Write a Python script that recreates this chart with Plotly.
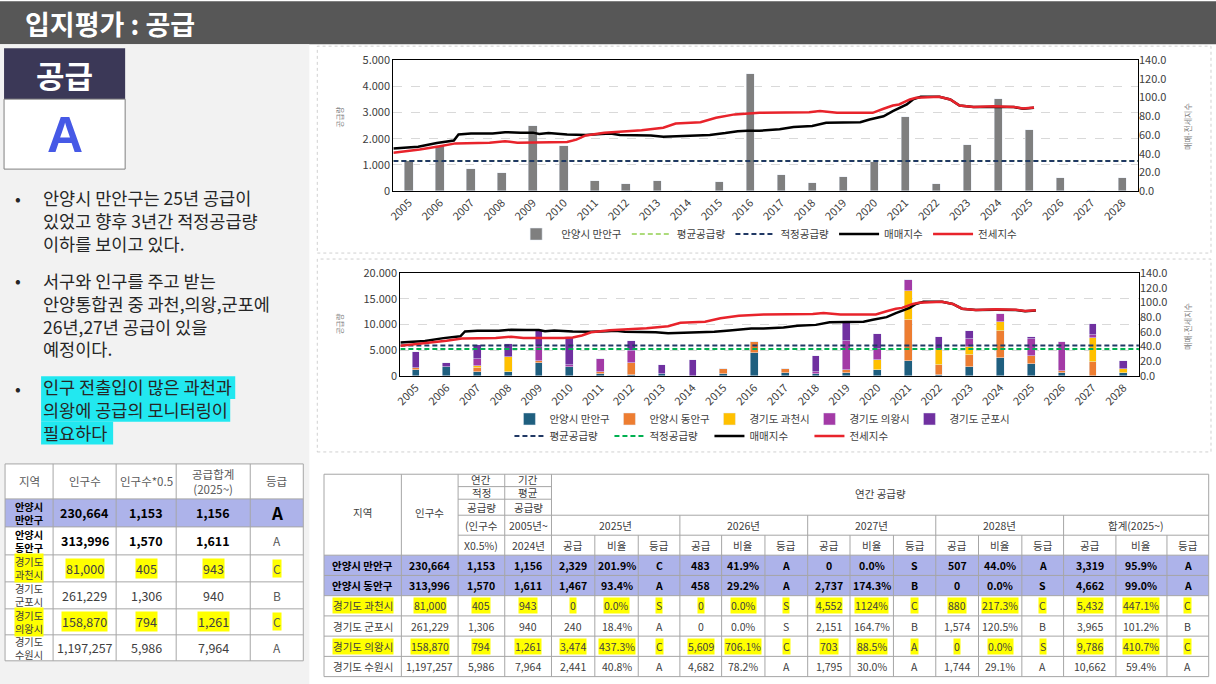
import plotly.graph_objects as go

W, H = 1216, 684
FONT = "Noto Sans CJK KR"

# 연도 (차트 x축)
years = list(range(2005, 2029))

# 2005~2024 연도별 공급량 (차트에서 읽은 값, 2025~2028은 아래 표 값 사용)
manan_hist = [1150, 1700, 850, 680, 2480, 1700, 380, 280, 380, 0, 350, 4480,
              600, 305, 520, 1120, 2840, 270, 1760, 3500]
dongan_hist = [400, 0, 600, 0, 500, 0, 300, 2180, 0, 0, 1010, 2060,
               760, 100, 650, 0, 8030, 1930, 2380, 5170]
gwacheon_hist = [0, 0, 500, 2940, 0, 0, 0, 0, 0, 0, 0, 0,
                 0, 0, 0, 2050, 5570, 2850, 1560, 1880]
uiwang_hist = [0, 0, 1400, 0, 2600, 400, 2690, 2460, 0, 0, 0, 0,
               0, 300, 5690, 2000, 2200, 0, 1500, 1490]
gunpo_hist = [3100, 890, 2670, 2660, 3350, 5400, 0, 1940, 1690, 3170, 0, 0,
              0, 3245, 3560, 2985, 0, 2590, 1470, 0]

# 매매지수 / 전세지수 (x는 연도 위치)
sale_x = [2004.5, 2005.3, 2005.9, 2006.2, 2006.45, 2006.6, 2007.0, 2007.7, 2008.1, 2008.6,
          2009.0, 2009.2, 2009.5, 2010.1, 2010.7, 2011.2, 2011.5, 2011.8, 2012.8, 2013.2,
          2013.9, 2014.4, 2014.7, 2015.2, 2015.6, 2015.9, 2016.3, 2016.95, 2017.4, 2018.0,
          2018.45, 2019.55, 2019.85, 2020.3, 2020.6, 2021.05, 2021.25, 2021.5, 2022.1, 2022.45,
          2022.75, 2023.2, 2023.85, 2024.5, 2024.8, 2025.15]
sale_idx = [45.6, 47.5, 51.5, 53.0, 54.0, 60.5, 61.5, 61.5, 63.0, 62.5,
            62.5, 61.0, 62.0, 60.5, 60.0, 61.0, 61.5, 60.0, 59.5, 58.0,
            59.0, 59.0, 60.0, 62.0, 64.0, 64.5, 64.5, 66.0, 68.4, 69.5,
            73.0, 73.7, 76.6, 80.0, 85.5, 92.6, 98.0, 100.8, 100.8, 98.0,
            91.5, 89.8, 90.0, 89.8, 88.0, 89.0]
jeonse_x = [2004.5, 2005.35, 2006.0, 2006.5, 2007.6, 2008.1, 2008.5, 2009.8, 2010.1, 2010.4,
            2010.7, 2011.3, 2012.1, 2012.5, 2013.2, 2013.6, 2014.4, 2014.9, 2015.5, 2016.0,
            2016.3, 2017.9, 2018.25, 2018.8, 2019.95, 2020.3, 2020.6, 2020.8, 2021.15, 2021.35,
            2022.1, 2022.45, 2022.75, 2023.2, 2023.85, 2024.5, 2024.8, 2025.15]
jeonse_idx = [41.0, 44.5, 48.0, 51.0, 51.7, 53.4, 51.7, 51.7, 52.4, 55.0,
              59.5, 62.3, 64.0, 65.0, 67.7, 72.3, 73.7, 78.4, 82.0, 83.0,
              83.7, 84.4, 85.5, 83.7, 83.7, 88.0, 91.5, 92.6, 98.0, 99.7,
              100.8, 98.0, 91.5, 89.8, 90.8, 90.0, 88.4, 89.5]

# 표 데이터 (만안, 동안, 과천, 군포, 의왕, 수원)
regions = ["안양시 만안구", "안양시 동안구", "경기도 과천시", "경기도 군포시", "경기도 의왕시", "경기도 수원시"]
population = [230664, 313996, 81000, 261229, 158870, 1197257]
proper_supply = [1153, 1570, 405, 1306, 794, 5986]
avg_supply = [1156, 1611, 943, 940, 1261, 7964]
left_grade = ["A", "A", "C", "B", "C", "A"]

supply_2025 = [2329, 1467, 0, 240, 3474, 2441]
ratio_2025 = ["201.9%", "93.4%", "0.0%", "18.4%", "437.3%", "40.8%"]
grade_2025 = ["C", "A", "S", "A", "C", "A"]
supply_2026 = [483, 458, 0, 0, 5609, 4682]
ratio_2026 = ["41.9%", "29.2%", "0.0%", "0.0%", "706.1%", "78.2%"]
grade_2026 = ["A", "A", "S", "S", "C", "A"]
supply_2027 = [0, 2737, 4552, 2151, 703, 1795]
ratio_2027 = ["0.0%", "174.3%", "1124%", "164.7%", "88.5%", "30.0%"]
grade_2027 = ["S", "B", "C", "B", "A", "A"]
supply_2028 = [507, 0, 880, 1574, 0, 1744]
ratio_2028 = ["44.0%", "0.0%", "217.3%", "120.5%", "0.0%", "29.1%"]
grade_2028 = ["A", "S", "C", "B", "S", "A"]
supply_total = [3319, 4662, 5432, 3965, 9786, 10662]
ratio_total = ["95.9%", "99.0%", "447.1%", "101.2%", "410.7%", "59.4%"]
grade_total = ["A", "A", "C", "B", "C", "A"]

blocks = [("2025년", supply_2025, ratio_2025, grade_2025),
          ("2026년", supply_2026, ratio_2026, grade_2026),
          ("2027년", supply_2027, ratio_2027, grade_2027),
          ("2028년", supply_2028, ratio_2028, grade_2028),
          ("합계(2025~)", supply_total, ratio_total, grade_total)]


def future(i):
    return [supply_2025[i], supply_2026[i], supply_2027[i], supply_2028[i]]


manan = manan_hist + future(0)
dongan = dongan_hist + future(1)
gwacheon = gwacheon_hist + future(2)
gunpo = gunpo_hist + future(3)
uiwang = uiwang_hist + future(4)

# 차트 가로선 값
top_avg, top_proper = avg_supply[0], proper_supply[0]
all_avg = sum(avg_supply[:5])
all_proper = sum(proper_supply[:5])

ROW_FILL = "#adb3ea"
YELLOW = "#ffff00"
CYAN = "#22e8f0"
GRID = "#a6a6a6"

# 페이지 기본 여백(8px) 보정: 슬라이드 픽셀 좌표 -> 그림 좌표
SX = (W + 8) / W
SY = (H + 16) / H


def px_x(x):
    return (x * SX - 8) / W


def px_y(y):
    return 1 - (y * SY - 8) / H


shapes = []
annotations = []


def box(x0, y0, x1, y1, fill=None, line=None, lw=1, dash=None, layer="below"):
    ln = dict(color=line or "rgba(0,0,0,0)", width=lw if line else 0)
    if dash:
        ln["dash"] = dash
    shapes.append(dict(type="rect", xref="paper", yref="paper",
                       x0=px_x(x0), x1=px_x(x1), y0=px_y(y1), y1=px_y(y0),
                       fillcolor=fill or "rgba(0,0,0,0)", line=ln, layer=layer))


def seg(x0, y0, x1, y1, color=GRID, lw=1):
    shapes.append(dict(type="line", xref="paper", yref="paper",
                       x0=px_x(x0), x1=px_x(x1), y0=px_y(y0), y1=px_y(y1),
                       line=dict(color=color, width=lw), layer="above"))


def label(x, y, s, size=11, color="#404040", bold=False, bg=None, anchor="center",
          family=FONT, angle=0, align="center"):
    if bold:
        s = f"<b>{s}</b>"
    a = dict(x=px_x(x), y=px_y(y), xref="paper", yref="paper", text=s, showarrow=False,
             xanchor=anchor, yanchor="middle", textangle=angle, align=align,
             font=dict(size=size, color=color, family=family), borderpad=0)
    if bg:
        a["bgcolor"] = bg
    annotations.append(a)


# ---- 배경, 제목 ----
box(0, 0, W, 43, fill="#575757")
box(0, 43, 310, H, fill="#f2f2f2")
label(25, 22, "입지평가 : 공급", size=27, color="white", bold=True, anchor="left")

box(5, 47, 126, 98, fill="#3b3857")
box(5, 98, 126, 168, fill="white", line="#808080")
label(65.5, 73, "공급", size=31, color="white", bold=True)
label(65.5, 134, "A", size=50, color="#4659e6", bold=True, family="Liberation Sans")

# 본문 글머리 (중심 y, 줄들)
bullets = [
    (219, ["안양시 만안구는 25년 공급이", "있었고 향후 3년간 적정공급량", "이하를 보이고 있다."]),
    (313, ["서구와 인구를 주고 받는", "안양통합권 중 과천,의왕,군포에", "26년,27년 공급이 있을", "예정이다."]),
    (409, ["인구 전출입이 많은 과천과", "의왕에 공급의 모니터링이", "필요하다"]),
]
BFS = 17.5
line_h = BFS * 1.3
# 마지막 글머리 형광펜 (줄별 폭)
hl_width = [194, 189, 72]
hl_top = bullets[2][0] - line_h * 1.5
for k, wdt in enumerate(hl_width):
    box(42, hl_top + line_h * k + 0.5, 42 + wdt, hl_top + line_h * (k + 1) + 0.5, fill=CYAN)
for yc, lines in bullets:
    first = yc - line_h * (len(lines) - 1) / 2
    label(19, first, "•", size=17, color="#262626")
    label(43, yc, "<br>".join(lines), size=BFS, color="#262626", anchor="left", align="left")

# 차트 패널 테두리
box(318, 45, 1211, 252, line="#d0d0d0", dash="dot")
box(318, 258, 1211, 451, line="#d0d0d0", dash="dot")

# ---- 왼쪽 표 ----
LT_X = [6, 54, 117, 177, 251, 304]
LT_Y = [463, 498, 526, 554, 581, 608, 634, 660]
box(LT_X[0], LT_Y[0], LT_X[-1], LT_Y[-1], fill="white")
box(LT_X[0], LT_Y[1], LT_X[-1], LT_Y[2], fill=ROW_FILL)
for y in LT_Y:
    seg(LT_X[0], y, LT_X[-1], y)
for x in LT_X:
    seg(x, LT_Y[0], x, LT_Y[-1])


def mid(a, i):
    return (a[i] + a[i + 1]) / 2


hy = mid(LT_Y, 0)
label(mid(LT_X, 0), hy, "지역", size=11.5, color="#595959")
label(mid(LT_X, 1), hy, "인구수", size=11.5, color="#595959")
label(mid(LT_X, 2), hy, "인구수*0.5", size=11.5, color="#595959")
label(mid(LT_X, 3), hy, "공급합계<br>(2025~)", size=11.5, color="#595959")
label(mid(LT_X, 4), hy, "등급", size=11.5, color="#595959")

for i in range(6):
    yc = mid(LT_Y, i + 1)
    bold = i in (0, 1)
    col = "#000000" if bold else "#404040"
    bg = YELLOW if i in (2, 4) else None
    name = regions[i].replace(" ", "<br>")
    label(mid(LT_X, 0), yc, name, size=10.2, color=col, bold=bold, bg=bg)
    label(mid(LT_X, 1), yc, f"{population[i]:,}", size=12.5, color=col, bold=bold, bg=bg)
    label(mid(LT_X, 2), yc, f"{proper_supply[i]:,}", size=12.5, color=col, bold=bold, bg=bg)
    label(mid(LT_X, 3), yc, f"{avg_supply[i]:,}", size=12.5, color=col, bold=bold, bg=bg)
    if i == 0:
        label(mid(LT_X, 4), yc, left_grade[i], size=17, color="#000000", bold=True)
    else:
        label(mid(LT_X, 4), yc, left_grade[i], size=12, color="#595959", bg=bg)

# ---- 오른쪽 표 ----
RT_X = [324.7, 402, 458.7, 505.3, 552, 595.3, 638.7, 680.3, 722, 765.3, 808, 850.3,
        893.7, 936, 978.7, 1022, 1063.7, 1116, 1167, 1208.7]
RT_TOP, RT_H1, RT_H2, RT_H3 = 473.3, 514.3, 534.3, 554.3
RT_Y = [RT_H3 + 20.25 * k for k in range(7)]
RT_BOT = RT_Y[-1]
x_l, x_r = RT_X[0], RT_X[-1]

box(x_l, RT_TOP, x_r, RT_BOT, fill="white")
box(x_l, RT_Y[0], x_r, RT_Y[2], fill=ROW_FILL)
seg(x_l, RT_TOP, x_r, RT_TOP)
for y in RT_Y:
    seg(x_l, y, x_r, y)
seg(RT_X[2], 485.7, RT_X[4], 485.7)
seg(RT_X[2], 498.3, RT_X[4], 498.3)
seg(RT_X[2], RT_H1, x_r, RT_H1)
seg(RT_X[2], RT_H2, x_r, RT_H2)
for k, x in enumerate(RT_X):
    if k <= 4 or k == len(RT_X) - 1:
        seg(x, RT_TOP, x, RT_BOT)
    elif (k - 4) % 3 == 0:
        seg(x, RT_H1, x, RT_BOT)
    else:
        seg(x, RT_H2, x, RT_BOT)

hs = 10.5
label(mid(RT_X, 0), 512, "지역", size=hs)
label(mid(RT_X, 1), 512, "인구수", size=hs)
for c, words in ((2, ["연간", "적정", "공급량", "(인구수", "X0.5%)"]),
                 (3, ["기간", "평균", "공급량", "2005년~", "2024년"])):
    for t, yy in zip(words, [478.5, 491.7, 506.5, 524.3, 544.3]):
        label(mid(RT_X, c), yy, t, size=hs)
label((RT_X[4] + x_r) / 2, 493, "연간 공급량", size=hs)
for b, blk in enumerate(blocks):
    c0 = 4 + 3 * b
    label((RT_X[c0] + RT_X[c0 + 3]) / 2, mid([RT_H1, RT_H2], 0), blk[0], size=hs)
    for j, t in enumerate(["공급", "비율", "등급"]):
        label(mid(RT_X, c0 + j), mid([RT_H2, RT_H3], 0), t, size=hs)

for i in range(6):
    yc = mid(RT_Y, i)
    bold = i in (0, 1)
    col = "#000000" if bold else "#404040"
    bg = YELLOW if i in (2, 4) else None
    cells = [regions[i], f"{population[i]:,}", f"{proper_supply[i]:,}", f"{avg_supply[i]:,}"]
    for _, sup, rat, grd in blocks:
        cells += [f"{sup[i]:,}", rat[i], grd[i]]
    for c, t in enumerate(cells):
        label(mid(RT_X, c), yc, t, size=10.5, color=col, bold=bold, bg=bg)

# ---- 차트 ----
C_GRAY, C_NAVY = "#7f7f7f", "#203864"
C_TEAL, C_ORANGE, C_YEL, C_MAG, C_VIO = "#1f5f7f", "#ed7d31", "#ffc000", "#a33aa6", "#7030a0"
DASH = "5px,3px"
edge = [2004.5, 2028.5]

fig = go.Figure()

# 위쪽 차트
fig.add_trace(go.Bar(x=years, y=manan, name="안양시 만안구", marker_color=C_GRAY, width=0.27,
                     xaxis="x", yaxis="y", legend="legend"))
fig.add_trace(go.Scatter(x=edge, y=[top_avg] * 2, name="평균공급량", mode="lines",
                         line=dict(color="#92d050", width=1.5, dash=DASH),
                         xaxis="x", yaxis="y", legend="legend"))
fig.add_trace(go.Scatter(x=edge, y=[top_proper] * 2, name="적정공급량", mode="lines",
                         line=dict(color=C_NAVY, width=2, dash=DASH),
                         xaxis="x", yaxis="y", legend="legend"))
fig.add_trace(go.Scatter(x=sale_x, y=sale_idx, name="매매지수", mode="lines",
                         line=dict(color="#000000", width=2.5), xaxis="x", yaxis="y2", legend="legend"))
fig.add_trace(go.Scatter(x=jeonse_x, y=jeonse_idx, name="전세지수", mode="lines",
                         line=dict(color="#e8232b", width=2.5), xaxis="x", yaxis="y2", legend="legend"))

# 아래쪽 차트 (누적 막대)
for nm, vals, colr in (("안양시 만안구", manan, C_TEAL), ("안양시 동안구", dongan, C_ORANGE),
                       ("경기도 과천시", gwacheon, C_YEL), ("경기도 의왕시", uiwang, C_MAG),
                       ("경기도 군포시", gunpo, C_VIO)):
    fig.add_trace(go.Bar(x=years, y=vals, name=nm, marker_color=colr, width=0.25,
                         xaxis="x2", yaxis="y3", legend="legend2"))
fig.add_trace(go.Scatter(x=edge, y=[all_avg] * 2, name="평균공급량", mode="lines",
                         line=dict(color=C_NAVY, width=2, dash=DASH),
                         xaxis="x2", yaxis="y3", legend="legend3"))
fig.add_trace(go.Scatter(x=edge, y=[all_proper] * 2, name="적정공급량", mode="lines",
                         line=dict(color="#00b050", width=2, dash=DASH),
                         xaxis="x2", yaxis="y3", legend="legend3"))
fig.add_trace(go.Scatter(x=sale_x, y=sale_idx, name="매매지수", mode="lines",
                         line=dict(color="#000000", width=2.5), xaxis="x2", yaxis="y4", legend="legend3"))
fig.add_trace(go.Scatter(x=jeonse_x, y=jeonse_idx, name="전세지수", mode="lines",
                         line=dict(color="#e8232b", width=2.5), xaxis="x2", yaxis="y4", legend="legend3"))

tick_font = dict(size=11, color="#404040", family=FONT)


def x_axis(dom, anchor):
    return dict(domain=[px_x(dom[0]), px_x(dom[1])], anchor=anchor, range=edge,
                tickmode="array", tickvals=years, ticktext=[str(y) for y in years],
                tickangle=-45, tickfont=tick_font, showgrid=False, zeroline=False,
                showline=True, linecolor="#000000", linewidth=1.2, mirror=True, ticks="")


def left_axis(dom, anchor, top, step):
    vals = list(range(0, top + 1, step))
    return dict(domain=[px_y(dom[1]), px_y(dom[0])], anchor=anchor, range=[0, top],
                tickmode="array", tickvals=vals, ticktext=[f"{v:,}".replace(",", ".") for v in vals],
                tickfont=tick_font, showgrid=True, gridcolor="#d9d9d9", griddash="dash",
                zeroline=False, showline=True, linecolor="#000000", linewidth=1.2, mirror=True,
                ticks="")


def right_axis(over, anchor):
    return dict(overlaying=over, side="right", anchor=anchor, range=[0, 140],
                tickmode="array", tickvals=list(range(0, 141, 20)), tickformat=".1f",
                tickfont=tick_font, showgrid=False, zeroline=False, ticks="")


label(340, 116, "공급량", size=7.5, color="#808080", angle=-90)
label(1187, 125, "매매-전세지수", size=8, color="#808080", angle=-90)
label(340, 323, "공급량", size=7.5, color="#808080", angle=-90)
label(1187, 325, "매매-전세지수", size=8, color="#808080", angle=-90)

leg_font = dict(size=10.5, color="#404040", family=FONT)

fig.update_layout(
    width=W, height=H, margin=dict(l=0, r=0, t=0, b=0),
    paper_bgcolor="white", plot_bgcolor="white",
    font=dict(family=FONT, color="#404040"),
    barmode="stack", bargap=0,
    xaxis=x_axis((394, 1138), "y"),
    yaxis=left_axis((59, 190), "x", 5000, 1000),
    yaxis2=right_axis("y", "x"),
    xaxis2=x_axis((401, 1139), "y3"),
    yaxis3=left_axis((272, 375), "x2", 20000, 5000),
    yaxis4=right_axis("y3", "x2"),
    legend=dict(orientation="h", x=px_x(767), xanchor="center", y=px_y(233), yanchor="middle",
                font=leg_font, bgcolor="rgba(0,0,0,0)", traceorder="normal", itemwidth=40),
    legend2=dict(orientation="h", x=px_x(510), xanchor="left", y=px_y(418), yanchor="middle",
                 font=leg_font, bgcolor="rgba(0,0,0,0)", traceorder="normal",
                 entrywidth=55, entrywidthmode="pixels"),
    legend3=dict(orientation="h", x=px_x(510), xanchor="left", y=px_y(435), yanchor="middle",
                 font=leg_font, bgcolor="rgba(0,0,0,0)", traceorder="normal",
                 entrywidth=55, entrywidthmode="pixels"),
    shapes=shapes, annotations=annotations,
)

# 툴바 숨김, 페이지 여백 제거
fig.write_html("out.html", config={"displayModeBar": False},
               post_script="document.documentElement.style.margin='0';"
                           "document.body.style.margin='0';"
                           "document.body.style.overflow='hidden';")
